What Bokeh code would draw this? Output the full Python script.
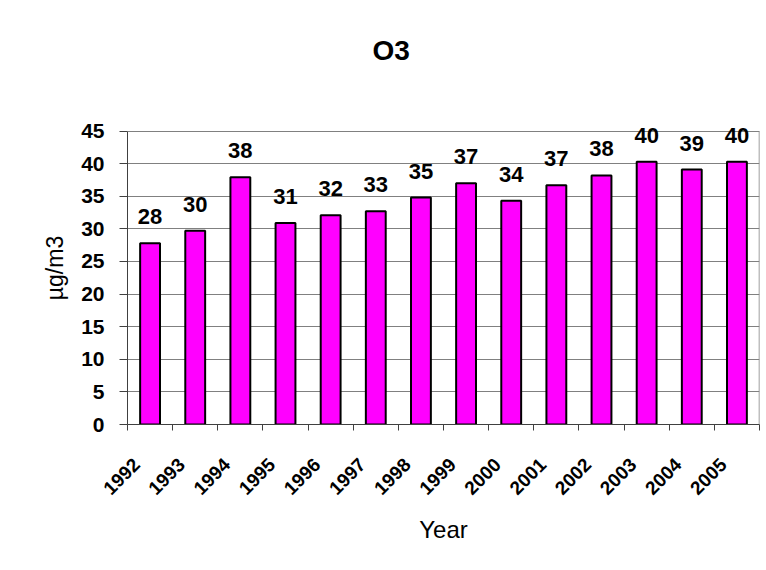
import math
from bokeh.plotting import figure
from bokeh.models import (ColumnDataSource, LabelSet, FixedTicker, Range1d,
                          CustomJSTickFormatter, Title)
from bokeh.core.properties import value
from bokeh.embed import file_html
from bokeh.resources import INLINE

# ---- data ----
years = [1992, 1993, 1994, 1995, 1996, 1997, 1998, 1999, 2000, 2001, 2002, 2003, 2004, 2005]
o3_values = [27.8, 29.7, 37.9, 30.9, 32.1, 32.7, 34.8, 37.0, 34.3, 36.7, 38.2, 40.3, 39.1, 40.3]
value_labels = [f"{v:.0f}" for v in o3_values]
y_ticks = [0, 5, 10, 15, 20, 25, 30, 35, 40, 45]
title_text = "O3"
x_title = "Year"
y_title = "µg/m3"

FONT = "Liberation Sans"

src = ColumnDataSource(dict(x=years, top=o3_values, label=value_labels))

p = figure(width=766, height=570,
           x_range=Range1d(years[0] - 0.5, years[-1] + 0.5),
           y_range=Range1d(y_ticks[0], 48),
           output_backend="svg", toolbar_location=None,
           min_border_left=127, min_border_right=7,
           min_border_top=111, min_border_bottom=146)
p.background_fill_color = "white"
p.border_fill_color = "white"
p.outline_line_color = None

p.vbar(x="x", top="top", width=0.44, source=src,
       fill_color="#FF00FF", line_color="black", line_width=2)

# right edge of the plot area
p.segment(x0=[years[-1] + 0.5], y0=[y_ticks[0]], x1=[years[-1] + 0.5], y1=[y_ticks[-1]],
          line_color="#808080", line_width=1.5)

labels = LabelSet(x="x", y="top", text="label", source=src, y_offset=19,
                  text_align="center", text_baseline="alphabetic",
                  text_font=value(FONT), text_font_size="22px",
                  text_font_style="bold", text_color="black")
p.add_layout(labels)

# grid
p.xgrid.visible = False
p.ygrid.grid_line_color = "#808080"
p.ygrid.grid_line_width = 1

# y axis
p.yaxis.ticker = FixedTicker(ticks=y_ticks, minor_ticks=[])
p.yaxis.bounds = (y_ticks[0], y_ticks[-1])
p.yaxis.axis_line_color = "#404040"
p.yaxis.major_tick_line_color = "#404040"
p.yaxis.major_tick_out = 8
p.yaxis.major_tick_in = 0
p.yaxis.major_label_standoff = 15
p.yaxis.major_label_text_font = FONT
p.yaxis.major_label_text_font_size = "21px"
p.yaxis.major_label_text_font_style = "bold"
p.yaxis.major_label_text_color = "black"
p.yaxis.axis_label = y_title
p.yaxis.axis_label_text_font = FONT
p.yaxis.axis_label_text_font_size = "23px"
p.yaxis.axis_label_text_font_style = "normal"
p.yaxis.axis_label_text_color = "black"
p.yaxis.axis_label_standoff = 10

# x axis: labels sit a little left of the category centre, ticks between categories
label_pos = [y - 0.3 for y in years]
minor = [y - 0.5 for y in years] + [years[-1] + 0.5]
p.xaxis.ticker = FixedTicker(ticks=label_pos, minor_ticks=minor)
p.xaxis.formatter = CustomJSTickFormatter(code="return Math.round(tick).toString()")
p.xaxis.axis_line_color = "#404040"
p.xaxis.major_tick_out = 0
p.xaxis.major_tick_in = 0
p.xaxis.minor_tick_line_color = "#404040"
p.xaxis.minor_tick_out = 6
p.xaxis.minor_tick_in = 0
p.xaxis.major_label_orientation = math.pi / 4
p.xaxis.major_label_standoff = 31
p.xaxis.major_label_text_font = FONT
p.xaxis.major_label_text_font_size = "19px"
p.xaxis.major_label_text_font_style = "bold"
p.xaxis.major_label_text_color = "black"
p.xaxis.axis_label = x_title
p.xaxis.axis_label_text_font = FONT
p.xaxis.axis_label_text_font_size = "24px"
p.xaxis.axis_label_text_font_style = "normal"
p.xaxis.axis_label_text_color = "black"
p.xaxis.axis_label_standoff = 12

# title, with an empty spacer title between it and the plot area
p.title.text = title_text
p.title.align = "left"
p.title.offset = 245
p.title.vertical_align = "top"
p.title.standoff = 10
p.title.text_font = FONT
p.title.text_font_size = "28px"
p.title.text_font_style = "bold"
p.title.text_color = "black"
p.add_layout(Title(text=" ", text_font_size="28px", standoff=6), "above")

open("out.html", "w").write(file_html(p, INLINE))
